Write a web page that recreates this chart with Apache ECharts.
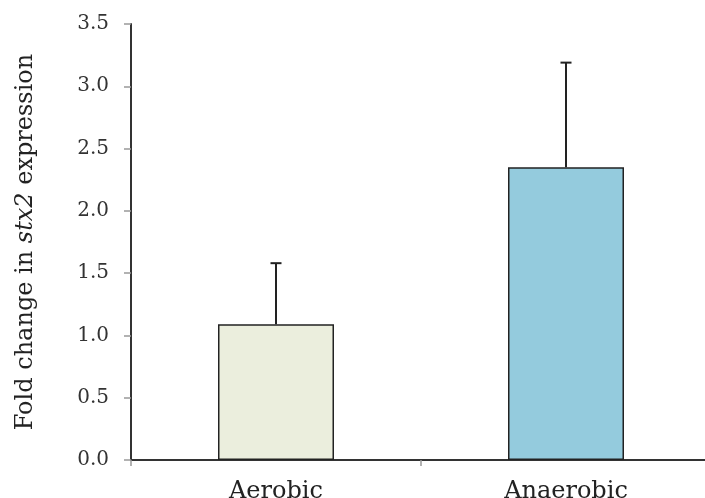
<!DOCTYPE html>
<html>
<head>
<meta charset="utf-8">
<script src="https://cdn.jsdelivr.net/npm/echarts@6/dist/echarts.min.js"></script>
<style>
html,body{margin:0;padding:0;background:#fff;overflow:hidden;}
#chart{width:705px;height:498px;}
</style>
</head>
<body>
<div id="chart"></div>
<script>
var categories = ['Aerobic', 'Anaerobic'];
var means = [1.09, 2.35];
var errors = [0.49, 0.84];
var barColors = ['#ebeedd', '#94cbdd'];
var yTicks = [0, 0.5, 1.0, 1.5, 2.0, 2.5, 3.0, 3.5];

var chart = echarts.init(document.getElementById('chart'));
var font = 'DejaVu Serif';

var barData = means.map(function (v, i) {
  return { value: v, itemStyle: { color: barColors[i] } };
});
var errData = means.map(function (v, i) {
  return [i, v, v + errors[i]];
});

chart.setOption({
  animation: false,
  grid: { left: 131, top: 24, bottom: 38, width: 580, containLabel: false, outerBoundsMode: 'none' },
  xAxis: {
    type: 'category',
    data: categories,
    axisLine: { lineStyle: { color: '#333', width: 2 } },
    axisTick: { show: true, alignWithLabel: false, length: 6, lineStyle: { color: '#999', width: 1.5 } },
    axisLabel: { fontFamily: font, fontSize: 24, color: '#222', margin: 20 }
  },
  yAxis: {
    type: 'value',
    min: 0,
    max: 3.5,
    interval: 0.5,
    splitLine: { show: false },
    axisLine: { show: true, lineStyle: { color: '#333', width: 2 } },
    axisTick: { show: true, length: 7, lineStyle: { color: '#999', width: 1.5 } },
    axisLabel: {
      fontFamily: font, fontSize: 20, color: '#333', margin: 22,
      formatter: function (v) { return v.toFixed(1); }
    },
    name: '{n|Fold change in }{i|stx2}{n| expression}',
    nameLocation: 'middle',
    nameGap: 93,
    nameRotate: 90,
    nameTextStyle: {
      rich: {
        n: { fontFamily: font, fontSize: 24, color: '#222' },
        i: { fontFamily: font, fontSize: 24, fontStyle: 'italic', color: '#222' }
      }
    }
  },
  series: [
    {
      type: 'bar',
      data: barData,
      barWidth: '40%',
      itemStyle: { borderColor: '#222', borderWidth: 1.5 },
      z: 2
    },
    {
      type: 'custom',
      data: errData,
      z: 3,
      renderItem: function (params, api) {
        var x = api.value(0);
        var lo = api.coord([x, api.value(1)]);
        var hi = api.coord([x, api.value(2)]);
        var cap = 5.5;
        var st = { stroke: '#222', lineWidth: 2 };
        return {
          type: 'group',
          children: [
            { type: 'line', shape: { x1: lo[0], y1: lo[1], x2: hi[0], y2: hi[1] }, style: st },
            { type: 'line', shape: { x1: hi[0] - cap, y1: hi[1], x2: hi[0] + cap, y2: hi[1] }, style: st }
          ]
        };
      }
    }
  ]
});
</script>
</body>
</html>
